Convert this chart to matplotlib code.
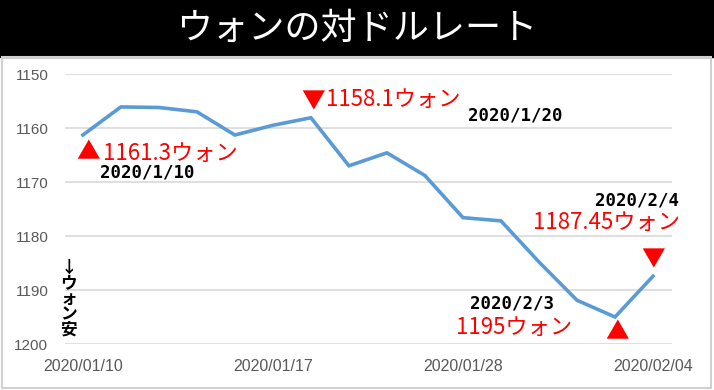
import matplotlib
matplotlib.use("Agg")
import matplotlib.pyplot as plt
from matplotlib.patches import Rectangle

plt.rcParams['font.family'] = ['Noto Sans CJK JP', 'DejaVu Sans']

# KRW per USD, business days 2020/01/10 - 2020/02/04
dates = ['2020/01/10', '2020/01/13', '2020/01/14', '2020/01/15', '2020/01/16',
         '2020/01/17', '2020/01/20', '2020/01/21', '2020/01/22', '2020/01/23',
         '2020/01/28', '2020/01/29', '2020/01/30', '2020/01/31', '2020/02/03',
         '2020/02/04']
rates = [1161.3, 1156.1, 1156.2, 1157.0, 1161.3, 1159.5, 1158.1, 1167.0,
         1164.6, 1168.8, 1176.6, 1177.2, 1184.8, 1191.9, 1195.0, 1187.45]
tick_idx = [0, 5, 10, 15]
yticks = [1150, 1160, 1170, 1180, 1190, 1200]

blue = '#5B9BD5'
red = '#FF0000'

fig = plt.figure(figsize=(7.14, 3.90), dpi=100)
W, H = 714, 390

# title band + outer frame
fig.patches.append(Rectangle((0, 1 - 57 / H), 1, 57 / H, transform=fig.transFigure,
                             color='black', zorder=0))
fig.patches.append(Rectangle((2 / W, 2 / H), 709 / W, (H - 59) / H, transform=fig.transFigure,
                             fill=False, edgecolor='#D0D0D0', lw=1.5, zorder=0))
fig.text(0.5, 1 - 29 / H, 'ウォンの対ドルレート', color='white', fontsize=26,
         ha='center', va='center')

ax = fig.add_axes([65 / W, 46 / H, 607 / W, 270 / H])
x = list(range(len(rates)))
ax.plot(x, rates, color=blue, lw=2.6, zorder=3, solid_joinstyle='miter')
ax.set_xlim(-0.47, 15.5)
ax.set_ylim(1200, 1150)
ax.set_yticks(yticks)
ax.set_xticks(tick_idx)
ax.set_xticklabels([dates[i] for i in tick_idx])
ax.grid(axis='y', color='#D9D9D9', lw=1.2)
ax.set_axisbelow(True)
for s in ax.spines.values():
    s.set_visible(False)
ax.tick_params(length=0)
ax.tick_params(axis='y', pad=12, labelsize=11, labelcolor='#595959')
ax.tick_params(axis='x', pad=11, labelsize=11.5, labelcolor='#595959')
for lab in ax.get_xticklabels() + ax.get_yticklabels():
    lab.set_family('Liberation Sans')

mono = dict(family='DejaVu Sans Mono', weight='bold', fontsize=12.5, color='black')
redtxt = dict(color=red, fontsize=16)


def note(i, txt, dx, dy, ha='left', **kw):
    ax.annotate(txt, (i, rates[i]), xytext=(dx, dy), textcoords='offset pixels',
                ha=ha, va='center', annotation_clip=False, **kw)


# 2020/1/10 start
note(0, '▲', 5, -18, ha='center', color=red, fontsize=17)
note(0, '1161.3ウォン', 20, -18, **redtxt)
note(0, '2020/1/10', 17, -37, **mono)
# 2020/1/20 high
note(6, '▼', 2, 16, ha='center', color=red, fontsize=17)
note(6, '1158.1ウォン', 15, 18, **redtxt)
note(6, '2020/1/20', 157, 2, **mono)
# 2020/2/3 low
note(14, '▲', 2, -16, ha='center', color=red, fontsize=17)
note(14, '2020/2/3', -103, 14, ha='center', **mono)
note(14, '1195ウォン', -101, -10, ha='center', **redtxt)
# 2020/2/4 last
note(15, '▼', 0, 16, ha='center', color=red, fontsize=17)
note(15, '2020/2/4', -16, 76, ha='center', **mono)
note(15, '1187.45ウォン', -46, 54, ha='center', **redtxt)

ax.text(0.006, 0.167, '\n'.join('↓ウォン安'), transform=ax.transAxes, ha='center',
        va='center', fontsize=12, weight='bold', linespacing=0.82,
        family=['Noto Sans CJK JP', 'DejaVu Sans'])

fig.savefig('out.png', dpi=100)
